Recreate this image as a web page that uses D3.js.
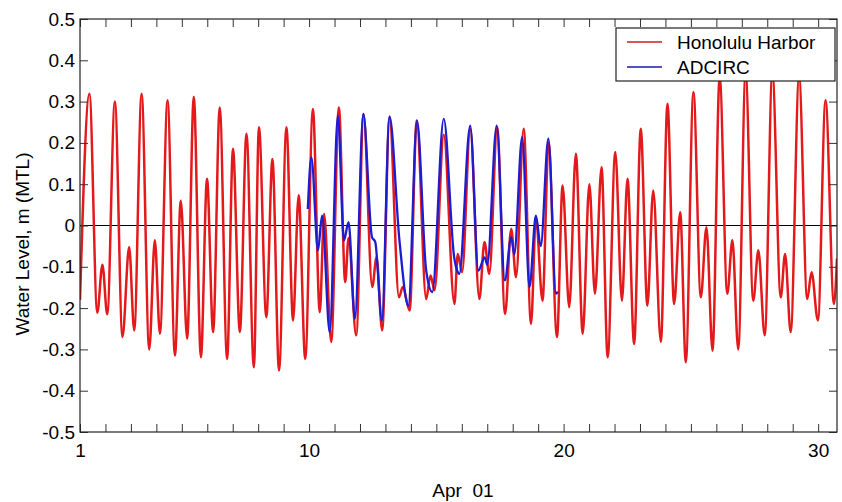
<!DOCTYPE html>
<html>
<head>
<meta charset="utf-8">
<script src="https://cdn.jsdelivr.net/npm/d3@7"></script>
<style>
  body { margin: 0; background: #fff; }
  svg text { font-family: "Liberation Sans", Arial, sans-serif; fill: #000; }
</style>
</head>
<body>
<svg id="chart" width="842" height="502"></svg>
<script>
const harborDays = [1.00, 1.37, 1.68, 1.88, 2.07, 2.37, 2.67, 2.93, 3.13, 3.42, 3.72, 3.94, 4.14, 4.44, 4.73, 4.96,
  5.21, 5.47, 5.75, 5.99, 6.23, 6.49, 6.78, 7.01, 7.28, 7.54, 7.83, 8.03, 8.32, 8.56, 8.82, 9.11, 9.37, 9.59,
  9.85, 10.15, 10.42, 10.59, 10.87, 11.17, 11.42, 11.55, 11.85, 12.14, 12.48, 12.65, 12.87, 13.16, 13.53, 13.68,
  13.95, 14.23, 14.60, 14.77, 14.93, 15.29, 15.71, 15.84, 16.01, 16.33, 16.69, 16.89, 17.08, 17.39, 17.70, 17.94,
  18.13, 18.43, 18.72, 18.91, 19.17, 19.41, 19.74, 19.96, 20.22, 20.48, 20.75, 21.01, 21.23, 21.49, 21.73, 22.03,
  22.29, 22.51, 22.77, 23.03, 23.29, 23.52, 23.82, 24.08, 24.34, 24.58, 24.80, 25.10, 25.39, 25.61, 25.85, 26.13,
  26.43, 26.63, 26.86, 27.15, 27.45, 27.65, 27.90, 28.20, 28.53, 28.70, 28.92, 29.25, 29.57, 29.74, 29.99, 30.29,
  30.62, 30.74];
const harborLevel = [-0.18, 0.319, -0.211, -0.095, -0.215, 0.30, -0.27, -0.052, -0.254, 0.319, -0.30, -0.036, -0.262, 0.303, -0.315, 0.06,
  -0.274, 0.312, -0.319, 0.113, -0.258, 0.286, -0.323, 0.186, -0.258, 0.222, -0.343, 0.238, -0.222, 0.161, -0.351, 0.238, -0.23, 0.073,
  -0.323, 0.282, -0.21, 0.028, -0.282, 0.286, -0.137, -0.03, -0.266, 0.27, -0.149, -0.077, -0.254, 0.262, -0.174, -0.149,
  -0.206, 0.254, -0.178, -0.121, -0.157, 0.22, -0.19, -0.069, -0.113, 0.234, -0.178, -0.04, -0.117, 0.238, -0.214, -0.008,
  -0.125, 0.234, -0.238, 0.02, -0.182, 0.20, -0.27, 0.097, -0.198, 0.174, -0.262, 0.10, -0.165, 0.141, -0.319, 0.178,
  -0.182, 0.113, -0.287, 0.234, -0.194, 0.085, -0.282, 0.295, -0.19, 0.032, -0.331, 0.323, -0.174, -0.004, -0.303, 0.36,
  -0.165, -0.036, -0.30, 0.37, -0.182, -0.06, -0.266, 0.37, -0.174, -0.069, -0.258, 0.36, -0.178, -0.113, -0.23, 0.303,
  -0.19, -0.08];

// ADCIRC model run
const adcircDays = [9.95, 10.09, 10.35, 10.51, 10.81, 11.13, 11.37, 11.55, 11.80, 12.13, 12.47, 12.60, 12.86, 13.16, 13.55,
  13.90, 14.24, 14.60, 14.84, 15.29, 15.70, 15.82, 15.90, 16.33, 16.65, 16.90, 17.00, 17.37, 17.69, 17.94, 18.06, 18.37,
  18.66, 18.91, 19.10, 19.40, 19.70, 19.77];
const adcircLevel = [0.04, 0.165, -0.06, 0.024, -0.258, 0.266, -0.036, 0.008, -0.226, 0.27, -0.028, -0.04, -0.23, 0.264, -0.036,
  -0.194, 0.254, -0.109, -0.161, 0.258, -0.077, -0.11, -0.117, 0.242, -0.109, -0.077, -0.095, 0.242, -0.133, -0.028, -0.07, 0.214,
  -0.149, 0.024, -0.05, 0.21, -0.165, -0.16];

const dayTicks = d3.range(1, 31);
const dayLabels = [1, 10, 20, 30];
const levelTicks = d3.range(-5, 6).map(d => d / 10);
const seriesNames = ['Honolulu Harbor', 'ADCIRC'];
const seriesColors = ['#e3191b', '#1c1cd2'];

const svg = d3.select('#chart');
const m = { left: 80, right: 837, top: 19, bottom: 432 };

const x = d3.scaleLinear().domain([1, 30.74]).range([m.left, m.right]);
const y = d3.scaleLinear().domain([-0.5, 0.5]).range([m.bottom, m.top]);

svg.append('clipPath').attr('id', 'plot')
  .append('rect').attr('x', m.left).attr('y', m.top)
  .attr('width', m.right - m.left).attr('height', m.bottom - m.top);

// zero reference line
svg.append('line')
  .attr('x1', m.left).attr('x2', m.right)
  .attr('y1', y(0)).attr('y2', y(0))
  .attr('stroke', '#000').attr('stroke-width', 1);

const line = d3.line()
  .x(d => x(d[0]))
  .y(d => y(d[1]))
  .curve(d3.curveMonotoneX);

const series = [
  d3.zip(harborDays, harborLevel),
  d3.zip(adcircDays, adcircLevel)
];

series.forEach((pts, i) => {
  svg.append('path')
    .datum(pts)
    .attr('clip-path', 'url(#plot)')
    .attr('fill', 'none')
    .attr('stroke', seriesColors[i])
    .attr('stroke-width', i === 0 ? 2.5 : 2.3)
    .attr('stroke-linejoin', 'round')
    .attr('d', line);
});

// axes, ticks pointing inward on all four sides
const fmtDay = d => dayLabels.includes(d) ? d : '';
const fmtLevel = d => String(+d.toFixed(1));

const xBottom = svg.append('g').attr('transform', `translate(0,${m.bottom})`)
  .call(d3.axisBottom(x).tickValues(dayTicks).tickSize(-8).tickFormat(fmtDay));
const xTop = svg.append('g').attr('transform', `translate(0,${m.top})`)
  .call(d3.axisTop(x).tickValues(dayTicks).tickSize(-8).tickFormat(''));
const yLeft = svg.append('g').attr('transform', `translate(${m.left},0)`)
  .call(d3.axisLeft(y).tickValues(levelTicks).tickSize(-8).tickFormat(fmtLevel));
const yRight = svg.append('g').attr('transform', `translate(${m.right},0)`)
  .call(d3.axisRight(y).tickValues(levelTicks).tickSize(-8).tickFormat(''));

[xBottom, xTop, yLeft, yRight].forEach(g => {
  g.select('.domain').remove();
  g.selectAll('.tick line').attr('stroke', '#333');
  g.selectAll('text').attr('font-size', 19).attr('fill', '#000').attr('font-family', null);
});
xBottom.selectAll('text').attr('y', 8).attr('dy', '0.9em');
yLeft.selectAll('text').attr('x', -5);

// frame
svg.append('rect')
  .attr('x', m.left).attr('y', m.top)
  .attr('width', m.right - m.left).attr('height', m.bottom - m.top)
  .attr('fill', 'none').attr('stroke', '#222').attr('stroke-width', 1.2);

// axis titles
svg.append('text')
  .attr('x', 463).attr('y', 497)
  .attr('text-anchor', 'middle')
  .attr('font-size', 19)
  .style('white-space', 'pre')
  .text('Apr  01');

svg.append('text')
  .attr('transform', 'translate(29,244) rotate(-90)')
  .attr('text-anchor', 'middle')
  .attr('font-size', 19)
  .text('Water Level, m (MTL)');

// legend
const legend = svg.append('g');
legend.append('rect')
  .attr('x', 616).attr('y', 28).attr('width', 219).attr('height', 53)
  .attr('fill', '#fff').attr('stroke', '#222').attr('stroke-width', 1.2);
seriesNames.forEach((name, i) => {
  const ly = 42 + i * 25;
  legend.append('line')
    .attr('x1', 627).attr('x2', 662).attr('y1', ly).attr('y2', ly)
    .attr('stroke', i === 0 ? '#c81e1e' : '#1a1aa8').attr('stroke-width', 1.6);
  legend.append('text')
    .attr('x', 677).attr('y', ly + 7)
    .attr('font-size', 19)
    .text(name);
});
</script>
</body>
</html>
